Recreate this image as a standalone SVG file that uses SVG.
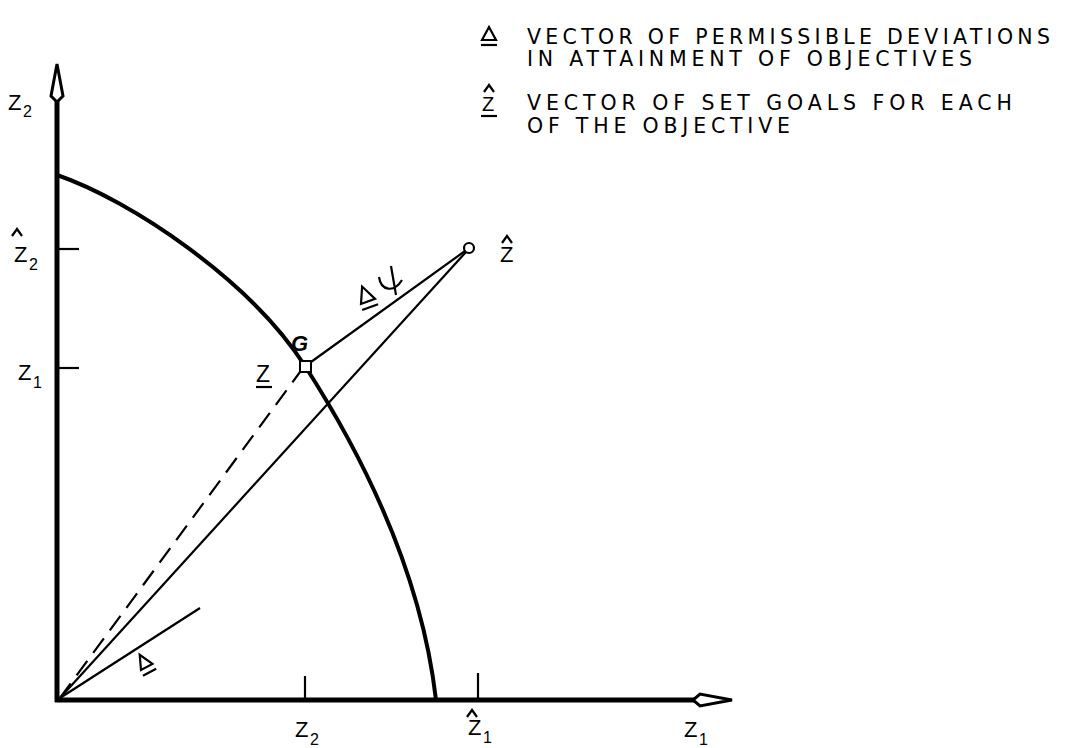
<svg xmlns="http://www.w3.org/2000/svg" width="1066" height="748" viewBox="0 0 1066 748">
<style>
.t{font-family:"Liberation Sans",Arial,sans-serif;fill:#000}
.leg{font-family:"DejaVu Sans",Verdana,sans-serif;font-size:20.5px}
.lab{font-size:22px}
.sub{font-size:16px}
.ax{stroke:#000;stroke-width:5;fill:none}
.thin{stroke:#000;stroke-width:2.2;fill:none}
</style>
<rect width="1066" height="748" fill="#fff"/>
<g id="axes">
<line class="ax" x1="57" y1="100" x2="57" y2="702"/>
<line class="ax" x1="55" y1="700" x2="697" y2="700"/>
<path d="M57,64 L63,96 L57,102 L51,96 Z" fill="#fff" stroke="#000" stroke-width="3"/>
<path d="M732,700 L700,694 L693,700 L700,706 Z" fill="#fff" stroke="#000" stroke-width="3"/>
<line class="thin" x1="57" y1="249" x2="79" y2="249"/>
<line class="thin" x1="57" y1="368" x2="79" y2="368"/>
<line class="thin" x1="305" y1="676" x2="305" y2="700"/>
<line class="thin" x1="478" y1="673" x2="478" y2="700"/>
</g>
<g id="frontier">
<path d="M57,175 C130,200 250,280 305,366 C350,436 420,560 436,700" stroke="#000" stroke-width="4" fill="none"/>
</g>
<g id="connectors">
<line class="thin" x1="311" y1="362" x2="465" y2="251"/>
<line class="thin" x1="60" y1="698" x2="466" y2="252"/>
<line class="thin" x1="60" y1="698" x2="300" y2="372" stroke-dasharray="18,10"/>
<line class="thin" x1="60" y1="698" x2="200" y2="608"/>
</g>
<g id="G">
<rect x="300" y="361" width="11" height="11" fill="#fff" stroke="#000" stroke-width="2"/>
<text class="t" x="291" y="351" font-size="22" font-weight="bold" font-style="italic">G</text>
<text class="t" x="256" y="382" font-size="23">Z</text>
<line class="thin" x1="256" y1="387" x2="272" y2="387"/>
</g>
<g id="zhat">
<circle cx="469" cy="248" r="5" fill="#fff" stroke="#000" stroke-width="2.2"/>
<text class="t lab" x="500" y="262">Z</text>
<path d="M502,243 L507,236 L512,243" class="thin"/>
</g>
<g id="deltapsi">
<g transform="translate(361,304) rotate(-20)">
<path d="M0,0 L7,-16 L15,0 Z" fill="none" stroke="#000" stroke-width="2.2"/>
<line x1="-1" y1="6" x2="16" y2="6" stroke="#000" stroke-width="2.2"/>
</g>
<path d="M379,277 C381,291 394,293 402,280 M391,266 L396,295" class="thin"/>
</g>
<g id="delta">
<g transform="translate(141,670) rotate(-28)">
<path d="M0,0 L6,-14 L13,0 Z" fill="none" stroke="#000" stroke-width="2.2"/>
<line x1="-1" y1="6" x2="14" y2="6" stroke="#000" stroke-width="2.2"/>
</g>
</g>
<g id="axislabels">
<text class="t lab" x="8" y="110">Z</text><text class="t sub" x="23" y="117">2</text>
<path d="M12,236 L17,229 L22,236" class="thin"/>
<text class="t lab" x="14" y="262">Z</text><text class="t sub" x="29" y="270">2</text>
<text class="t lab" x="18" y="380">Z</text><text class="t sub" x="33" y="388">1</text>
<text class="t lab" x="295" y="737">Z</text><text class="t sub" x="310" y="745">2</text>
<path d="M467,717 L472,710 L477,717" class="thin"/>
<text class="t lab" x="468" y="735">Z</text><text class="t sub" x="483" y="743">1</text>
<text class="t lab" x="684" y="737">Z</text><text class="t sub" x="699" y="745">1</text>
</g>
<g id="legend">
<path d="M482,40 L489,27 L496,40 Z" fill="none" stroke="#000" stroke-width="2.2"/>
<line x1="481" y1="45" x2="497" y2="45" stroke="#000" stroke-width="2.2"/>
<path d="M484,92 L489,85 L494,92" class="thin"/>
<text class="t" x="482" y="111" font-size="20">Z</text>
<line x1="481" y1="116" x2="497" y2="116" stroke="#000" stroke-width="2.2"/>
<text class="t leg" x="527" y="44" textLength="523">VECTOR OF PERMISSIBLE DEVIATIONS</text>
<text class="t leg" x="527" y="66" textLength="445">IN ATTAINMENT OF OBJECTIVES</text>
<text class="t leg" x="527" y="110" textLength="485">VECTOR OF SET GOALS FOR EACH</text>
<text class="t leg" x="527" y="133" textLength="263">OF THE OBJECTIVE</text>
</g>
</svg>
